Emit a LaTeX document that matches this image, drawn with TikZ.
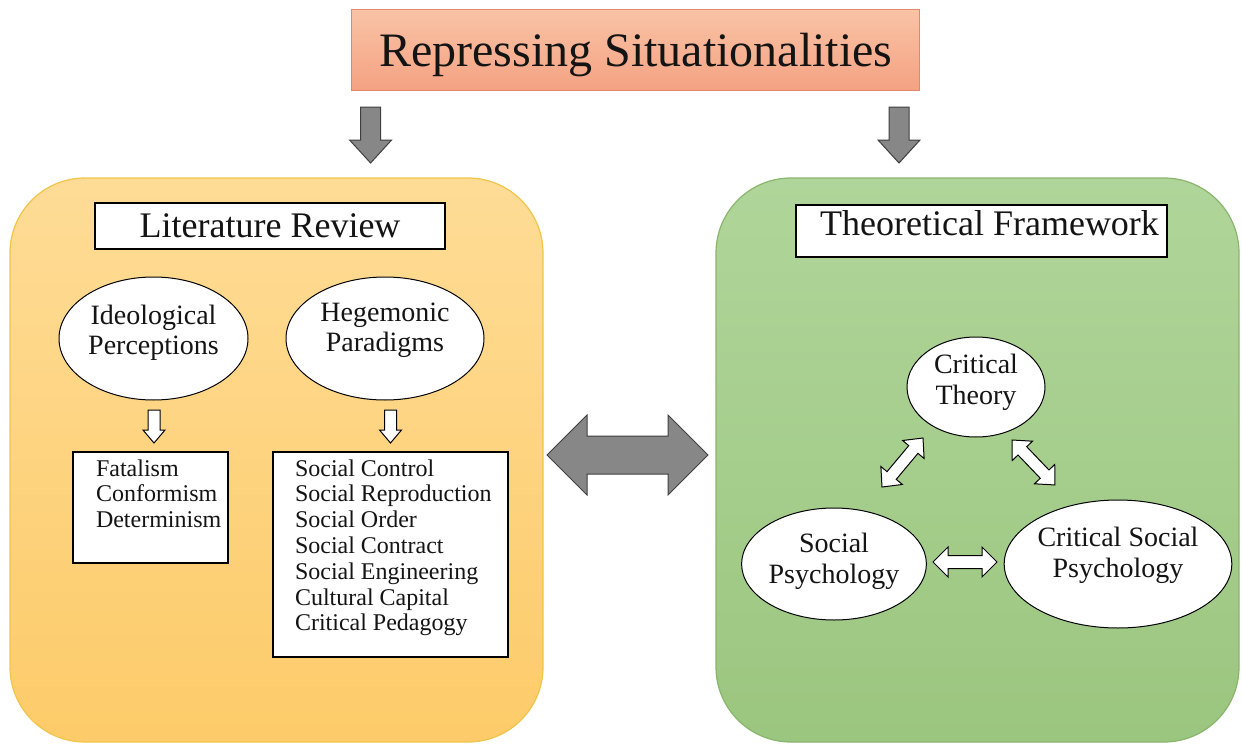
\documentclass[tikz,border=0pt]{standalone}
\usepackage{fontspec}
\setmainfont{Liberation Serif}
\usetikzlibrary{shapes.geometric}

% colours
\definecolor{titletop}{HTML}{F9C3A6}
\definecolor{titlebot}{HTML}{F4A282}
\definecolor{titleline}{HTML}{E0896A}
\definecolor{littop}{HTML}{FEDC96}
\definecolor{litbot}{HTML}{FDCB69}
\definecolor{litline}{HTML}{F1C44A}
\definecolor{theotop}{HTML}{B0D59A}
\definecolor{theobot}{HTML}{9BC67F}
\definecolor{theoline}{HTML}{8AB56D}
\definecolor{barfill}{HTML}{878787}
\definecolor{barline}{HTML}{3F3F3F}
\definecolor{ink}{HTML}{141414}

% centred multi-line text, shifted vertically without changing its box
\newcommand\liftup[2]{\raisebox{#1}[\height][\depth]{\begin{tabular}{@{}c@{}}#2\end{tabular}}}

\tikzset{
  % block arrow along +x: length / shaft half width / head half width / head length / style
  pics/arrowone/.style args={#1/#2/#3/#4/#5}{code={
    \path[#5] (0,-#2) -- ({#1-#4},-#2) -- ({#1-#4},-#3) -- (#1,0)
      -- ({#1-#4},#3) -- ({#1-#4},#2) -- (0,#2) -- cycle;}},
  % double-headed block arrow along +x
  pics/arrowtwo/.style args={#1/#2/#3/#4/#5}{code={
    \path[#5] (0,0) -- (#4,-#3) -- (#4,-#2) -- ({#1-#4},-#2) -- ({#1-#4},-#3)
      -- (#1,0) -- ({#1-#4},#3) -- ({#1-#4},#2) -- (#4,#2) -- (#4,#3) -- cycle;}},
  graybar/.style={fill=barfill, draw=barline, line width=1pt},
  whitebar/.style={fill=white, draw=black, line width=1pt},
  panel/.style={rectangle, rounded corners=75pt, line width=1.2pt, inner sep=0pt},
  framebox/.style={rectangle, draw=black, line width=1.3pt, fill=white, inner sep=0pt, text=ink},
  listbox/.style={framebox, font=\fontsize{24}{25.8}\selectfont},
  oval/.style={ellipse, draw=black, line width=1pt, fill=white, inner sep=0pt, text=ink,
    font=\fontsize{28}{30.5}\selectfont},
}

\begin{document}
\begin{tikzpicture}[x=1pt,y=-1pt]
\useasboundingbox (0,0) rectangle (1243,744);

% headline
\node[rectangle, top color=titletop, bottom color=titlebot, draw=titleline, line width=1pt,
      minimum width=568.5pt, minimum height=81pt, inner sep=0pt, text=ink,
      font=\fontsize{48}{56}\selectfont] (title) at (635.7,49.5)
      {\liftup{-6pt}{Repressing Situationalities}};

% the two panels
\node[panel, top color=littop, bottom color=litbot, draw=litline,
      minimum width=533pt, minimum height=564pt] (litpanel) at (276.5,460) {};
\node[panel, top color=theotop, bottom color=theobot, draw=theoline,
      minimum width=523pt, minimum height=564pt] (theopanel) at (977.5,460) {};

% arrows from the headline into the panels
\pic[rotate=-90] (downlit) at (370.6,107) {arrowone=56/10/21/23/graybar};
\pic[rotate=-90] (downtheo) at (899,107) {arrowone=56/10/21/23/graybar};

% exchange between the panels
\pic (exchange) at (547,455) {arrowtwo=161/19/40/40/graybar};

% literature review panel
\node[framebox, minimum width=350pt, minimum height=46pt,
      font=\fontsize{36}{40}\selectfont] (litbox) at (270,226) {Literature Review};

\node[oval, minimum width=189pt, minimum height=123pt] (ideo) at (153.5,338.5)
      {\liftup{5pt}{Ideological\\Perceptions}};
\node[oval, minimum width=198pt, minimum height=123pt] (hege) at (385,338.5)
      {\liftup{8pt}{Hegemonic\\Paradigms}};

\pic[rotate=-90] (ideodown) at (154,410) {arrowone=33/6/11/13/whitebar};
\pic[rotate=-90] (hegedown) at (390.5,410) {arrowone=33/6/11/13/whitebar};

\node[listbox] (fatal) at (150.5,507.5)
      {\parbox[c][111pt][t]{155pt}{\raggedright\leftskip=23pt
       \rule{0pt}{24pt}Fatalism\\Conformism\\Determinism}};
\node[listbox] (social) at (390.5,554.5)
      {\parbox[c][205pt][t]{235pt}{\raggedright\leftskip=22pt
       \rule{0pt}{24pt}Social Control\\Social Reproduction\\Social Order\\Social Contract\\
       Social Engineering\\Cultural Capital\\Critical Pedagogy}};

% theoretical framework panel
\node[framebox, minimum width=371pt, minimum height=52pt,
      font=\fontsize{36}{40}\selectfont] (theobox) at (981.5,231)
      {\hspace*{16pt}\raisebox{8pt}[\height][\depth]{Theoretical Framework}};

\node[oval, minimum width=138pt, minimum height=100pt] (crit) at (976,387)
      {\liftup{4pt}{Critical\\Theory}};
\node[oval, minimum width=172pt, minimum height=112pt] (socpsy) at (834,564)
      {\liftup{2pt}{Social\\Psychology}};
\node[oval, minimum width=220pt, minimum height=128pt] (critsoc) at (1118,564)
      {\liftup{8pt}{Critical Social\\Psychology}};

\pic[rotate=50.1] (critleft) at (882,487) {arrowtwo=63.9/6/14/15/whitebar};
\pic[rotate=-46.3] (critright) at (1012,440) {arrowtwo=62.2/6/14/15/whitebar};
\pic (psylink) at (933,562) {arrowtwo=64/6.5/15/15/whitebar};

\end{tikzpicture}
\end{document}
